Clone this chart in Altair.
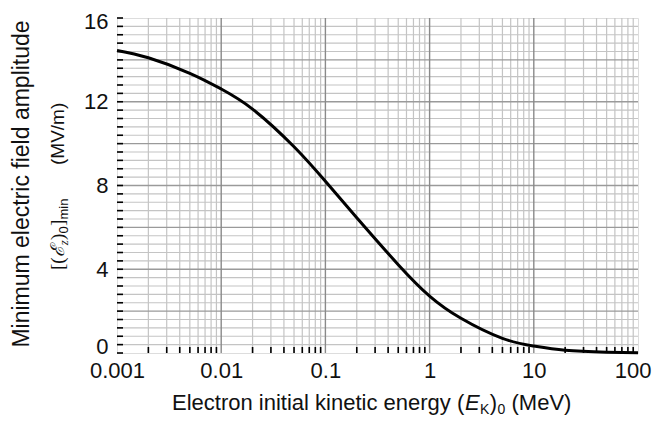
import altair as alt
import pandas as pd

# ---- data ----
energy_mev = [0.001, 0.002, 0.005, 0.01, 0.02, 0.05, 0.1, 0.2, 0.5, 1, 2, 5, 10, 20, 50, 100]
field_min = [14.45, 14.10, 13.36, 12.61, 11.65, 9.85, 8.20, 6.46, 4.22, 2.72, 1.66, 0.70, 0.33, 0.13, 0.04, 0.01]

x_major = [0.001, 0.01, 0.1, 1, 10, 100]
x_minor = [round(k * d, 6) for d in [0.001, 0.01, 0.1, 1, 10] for k in range(2, 10)]
y_ticks = [round(0.4 * i, 1) for i in range(0, 41)]
y_major = [0, 2, 4, 6, 8, 10, 12, 14, 16]
y_minor = [v for v in y_ticks if round(v, 1) not in y_major]
y_labels = [0, 4, 8, 12, 16]

W, H = 521, 335
FONT = "Liberation Sans"
SERIF = "Liberation Serif"

curve = pd.DataFrame({"E": energy_mev, "F": field_min})

xs = alt.Scale(type="log", domain=[0.001, 100], nice=False)
ys = alt.Scale(domain=[0, 16], nice=False, zero=False)

x_axis = alt.Axis(
    values=x_major, format="~g", title=None, grid=False, ticks=False, domain=False,
    labelFontSize=22, labelFont=FONT, labelColor="#111", labelPadding=7, labelFlush=False,
    labelAlign={"condition": {"test": "datum.value >= 99", "value": "right"}, "value": "center"},
    labelOffset={"condition": {"test": "datum.value >= 99", "value": 13}, "value": 0},
)
y_axis = alt.Axis(
    values=y_labels, format="d", title=None, grid=False, ticks=False, domain=False,
    labelFontSize=22, labelFont=FONT, labelColor="#111", labelPadding=9, labelFlush=False,
    labelOffset={"condition": [{"test": "datum.value == 0", "value": -7},
                               {"test": "datum.value == 16", "value": 3}], "value": 0},
)


def vrules(vals, color, width):
    return alt.Chart(pd.DataFrame({"v": vals})).mark_rule(color=color, strokeWidth=width).encode(
        x=alt.X("v:Q", scale=xs, axis=x_axis), y=alt.value(0), y2=alt.value(H))


def hrules(vals, color, width):
    return alt.Chart(pd.DataFrame({"v": vals})).mark_rule(color=color, strokeWidth=width).encode(
        y=alt.Y("v:Q", scale=ys, axis=y_axis), x=alt.value(0), x2=alt.value(W))


grid = [
    vrules(x_minor, "#c4c4c4", 1.2),
    hrules(y_minor, "#c4c4c4", 1.2),
    hrules(y_major[1:-1], "#9a9a9a", 1.4),
    vrules(x_major[1:-1], "#8a8a8a", 1.4),
]

left_ticks = alt.Chart(pd.DataFrame({"v": y_ticks})).mark_rule(color="black", strokeWidth=1.6).encode(
    y=alt.Y("v:Q", scale=ys, axis=y_axis), x=alt.value(0), x2=alt.value(6))
bottom_ticks = alt.Chart(pd.DataFrame({"v": x_minor})).mark_rule(color="black", strokeWidth=1.6).encode(
    x=alt.X("v:Q", scale=xs, axis=x_axis), y=alt.value(H), y2=alt.value(H - 6))

line = alt.Chart(curve).mark_line(color="black", strokeWidth=3, interpolate="natural").encode(
    x=alt.X("E:Q", scale=xs, axis=x_axis),
    y=alt.Y("F:Q", scale=ys, axis=y_axis),
)

one = alt.Data(values=[{}])


def txt(s, x, y, size, font=FONT, style="normal", angle=0, align="left"):
    return alt.Chart(one).mark_text(
        text=s, font=font, fontSize=size, fontStyle=style, angle=angle, align=align,
        baseline="alphabetic", color="#111").encode(x=alt.value(x), y=alt.value(y))


# x-axis title: Electron initial kinetic energy (E_K)_0 (MeV)
XB = 392
xt = [
    txt("Electron initial kinetic energy (", 55, XB, 22),
    txt("E", 348, XB, 22, style="italic"),
    txt("K", 363, XB + 4, 14),
    txt(")", 372.8, XB, 22),
    txt("0", 380.6, XB + 4, 14),
    txt("(MeV)", 394.5, XB, 22),
]

# y-axis title, two rotated lines
yt = [
    txt("Minimum electric field amplitude", -88, 166, 23, angle=270, align="center"),
    txt("[(", -53, 252, 19, font=SERIF, angle=270),
    txt("ℰ", -53, 239.3, 19, font="DejaVu Serif", style="italic", angle=270),
    txt("z", -49, 227.3, 13, font=SERIF, style="italic", angle=270),
    txt(")", -53, 222, 19, font=SERIF, angle=270),
    txt("0", -49, 215.5, 13, angle=270),
    txt("]", -53, 208, 19, font=SERIF, angle=270),
    txt("min", -49, 201.5, 13, angle=270),
    txt("(MV/m)", -53, 147, 19, angle=270),
]

chart = alt.layer(*grid, left_ticks, bottom_ticks, line, *xt, *yt).properties(
    width=W, height=H,
    autosize=alt.AutoSizeParams(type="none"),
    padding={"left": 109, "top": 10, "right": 14, "bottom": 65},
).configure_view(stroke="black", strokeWidth=2.8).configure(background="white")

chart.save("out.html", embed_options={"renderer": "svg", "actions": False})
